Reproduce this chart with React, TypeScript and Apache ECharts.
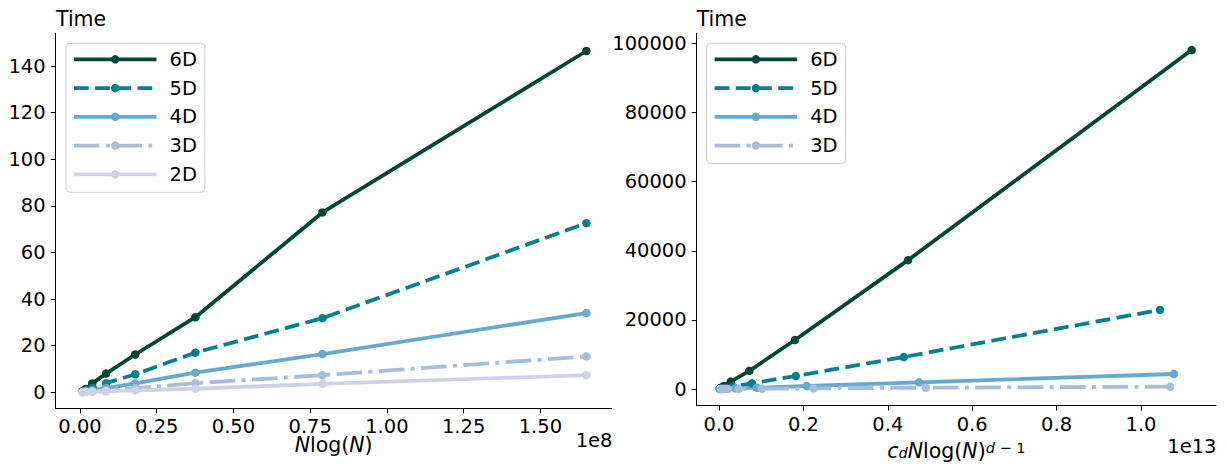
import React, { useEffect, useRef } from "react";
import * as echarts from "echarts";

const FONT = "DejaVu Sans";
const FS = 19.5;
const FS_LABEL = 20.5;

const DIMS = ["6D", "5D", "4D", "3D", "2D"];
const COLORS = ["#014636", "#02818a", "#67a9cf", "#a6bddb", "#d0d1e6"];
const DASHES: any[] = ["solid", [14.8, 6.4], "solid", [25.6, 6.4, 4, 6.4], "solid"];

// Left panel: x = N log(N)
const LEFT_X = [0.009e8, 0.019e8, 0.04e8, 0.085e8, 0.18e8, 0.376e8, 0.79e8, 1.65e8];
const LEFT_6D = [0.6, 1.4, 3.8, 8.0, 16.2, 32.2, 77.2, 146.5];
const LEFT_5D = [0.3, 0.8, 1.9, 3.9, 7.7, 17.0, 31.8, 72.6];
const LEFT_4D = [0.15, 0.4, 0.9, 1.8, 3.8, 8.4, 16.4, 34.0];
const LEFT_3D = [0.08, 0.2, 0.4, 0.8, 1.7, 3.9, 7.3, 15.4];
const LEFT_2D = [0.04, 0.1, 0.2, 0.4, 0.8, 1.5, 3.6, 7.3];

// Right panel: x = c_d N log(N)^(d-1), per dimension
const RIGHT_X_6D = [0.0018e13, 0.0045e13, 0.0115e13, 0.028e13, 0.072e13, 0.18e13, 0.448e13, 1.12e13];
const RIGHT_Y_6D = [130, 340, 880, 2150, 5250, 14200, 37300, 98100];
const RIGHT_X_5D = [0.0024e13, 0.0058e13, 0.0138e13, 0.033e13, 0.078e13, 0.182e13, 0.438e13, 1.045e13];
const RIGHT_Y_5D = [50, 120, 290, 700, 1650, 3760, 9260, 22900];
const RIGHT_X_4D = [0.0033e13, 0.0075e13, 0.017e13, 0.039e13, 0.09e13, 0.208e13, 0.474e13, 1.078e13];
const RIGHT_Y_4D = [14, 31, 72, 165, 380, 870, 1940, 4340];
const RIGHT_X_3D = [0.0045e13, 0.0098e13, 0.021e13, 0.047e13, 0.102e13, 0.224e13, 0.49e13, 1.069e13];
const RIGHT_Y_3D = [4, 8, 18, 40, 85, 180, 380, 680];

const LEFT_X_TICKS = [0, 0.25e8, 0.5e8, 0.75e8, 1.0e8, 1.25e8, 1.5e8];
const LEFT_Y_TICKS = [0, 20, 40, 60, 80, 100, 120, 140];
const RIGHT_X_TICKS = [0, 0.2e13, 0.4e13, 0.6e13, 0.8e13, 1.0e13];
const RIGHT_Y_TICKS = [0, 20000, 40000, 60000, 80000, 100000];

const LEFT_SERIES = [LEFT_6D, LEFT_5D, LEFT_4D, LEFT_3D, LEFT_2D];
const RIGHT_SERIES_X = [RIGHT_X_6D, RIGHT_X_5D, RIGHT_X_4D, RIGHT_X_3D];
const RIGHT_SERIES_Y = [RIGHT_Y_6D, RIGHT_Y_5D, RIGHT_Y_4D, RIGHT_Y_3D];

const axisCommon = (ticks: number[], fmt: (v: number) => string, isY: boolean) => ({
  type: "value",
  splitLine: { show: false },
  axisLine: { show: true, onZero: false, lineStyle: { color: "#000", width: 1 } },
  axisTick: { show: true, length: 5, lineStyle: { color: "#000", width: 1 }, customValues: ticks },
  axisLabel: {
    customValues: ticks,
    formatter: fmt,
    color: "#000",
    fontFamily: FONT,
    fontSize: FS,
    margin: isY ? 10 : 8.5,
    showMinLabel: true,
    showMaxLabel: true,
  },
});

function makeSeries(name: string, idx: number, xs: number[], ys: number[], axis: number) {
  return {
    type: "line",
    name,
    xAxisIndex: axis,
    yAxisIndex: axis,
    data: xs.map((x, i) => [x, ys[i]]),
    symbol: "circle",
    symbolSize: 8.5,
    showSymbol: true,
    clip: false,
    lineStyle: { color: COLORS[idx], width: 3.8, type: DASHES[idx] },
    itemStyle: { color: COLORS[idx], borderWidth: 0 },
    emphasis: { disabled: true },
  };
}

const legendCommon = {
  orient: "vertical",
  top: 43.3,
  itemWidth: 82.6,
  itemHeight: 10.5,
  itemGap: 6.75,
  padding: [5, 8, 7, 6],
  backgroundColor: "rgba(255,255,255,0.8)",
  borderColor: "#cccccc",
  borderWidth: 1,
  borderRadius: 4,
  selectedMode: false,
  lineStyle: { width: "inherit", type: "inherit" },
  textStyle: { fontFamily: FONT, fontSize: FS, color: "#000", lineHeight: 22, padding: [0, 0, 0, 8] },
};

const labelRich = {
  i: { fontFamily: FONT, fontSize: FS_LABEL, fontStyle: "italic", lineHeight: 20, verticalAlign: "middle" },
  r: { fontFamily: FONT, fontSize: FS_LABEL, lineHeight: 20, verticalAlign: "middle" },
  sub: { fontFamily: FONT, fontSize: 14.5, fontStyle: "italic", lineHeight: 12, verticalAlign: "bottom" },
  supi: { fontFamily: FONT, fontSize: 14.5, fontStyle: "italic", lineHeight: 4, verticalAlign: "top" },
  sup: { fontFamily: FONT, fontSize: 14.5, lineHeight: 4, verticalAlign: "top" },
};

export default function App() {
  const ref = useRef<HTMLDivElement>(null);
  useEffect(() => {
    if (!ref.current) return;
    const chart = echarts.init(ref.current, null, { renderer: "svg" });
    const series: any[] = [];
    DIMS.forEach((d, i) => series.push(makeSeries(d, i, LEFT_X, LEFT_SERIES[i], 0)));
    DIMS.slice(0, 4).forEach((d, i) =>
      series.push(makeSeries(d, i, RIGHT_SERIES_X[i], RIGHT_SERIES_Y[i], 1))
    );
    const txt = (text: string, x: number, y: number, align: string, size: number) => ({
      type: "text",
      x,
      y,
      style: { text, font: `${size}px '${FONT}'`, fill: "#000", align, verticalAlign: "middle" },
    });
    const option: any = {
      animation: false,
      textStyle: { fontFamily: FONT },
      grid: [
        { left: 55.7, top: 33.3, width: 556, height: 375 },
        { left: 696.7, top: 33.3, width: 519.3, height: 372.4 },
      ],
      xAxis: [
        { gridIndex: 0, min: -0.0792e8, max: 1.7324e8, ...axisCommon(LEFT_X_TICKS, (v) => (v / 1e8).toFixed(2), false) },
        { gridIndex: 1, min: -0.0528e13, max: 1.1777e13, ...axisCommon(RIGHT_X_TICKS, (v) => (v / 1e13).toFixed(1), false) },
      ],
      yAxis: [
        { gridIndex: 0, min: -6.9, max: 154.1, ...axisCommon(LEFT_Y_TICKS, (v) => String(Math.round(v)), true) },
        { gridIndex: 1, min: -4830, max: 102950, ...axisCommon(RIGHT_Y_TICKS, (v) => String(Math.round(v)), true) },
      ],
      legend: [
        { ...legendCommon, left: 66, data: DIMS },
        { ...legendCommon, left: 706.7, data: DIMS.slice(0, 4) },
      ],
      series,
      graphic: [
        txt("Time", 56, 18.6, "left", FS_LABEL),
        txt("Time", 696.7, 18.6, "left", FS_LABEL),
        txt("1e8", 612.5, 440.2, "right", FS),
        txt("1e13", 1216.5, 446.2, "right", FS),
        {
          type: "text",
          x: 333.6,
          y: 445,
          style: {
            text: "{i|N}{r|log(}{i|N}{r|)}",
            align: "center",
            verticalAlign: "middle",
            fill: "#000",
            rich: labelRich,
          },
        },
        {
          type: "text",
          x: 956.4,
          y: 450.8,
          style: {
            text: "{i|c}{sub|d}{i|N}{r|log(}{i|N}{r|)}{supi|d}{sup| − 1}",
            align: "center",
            verticalAlign: "middle",
            fill: "#000",
            rich: labelRich,
          },
        },
      ],
    };
    chart.setOption(option);
    return () => chart.dispose();
  }, []);
  return <div ref={ref} style={{ position: "absolute", left: 0, top: 0, width: 1227, height: 464 }} />;
}
